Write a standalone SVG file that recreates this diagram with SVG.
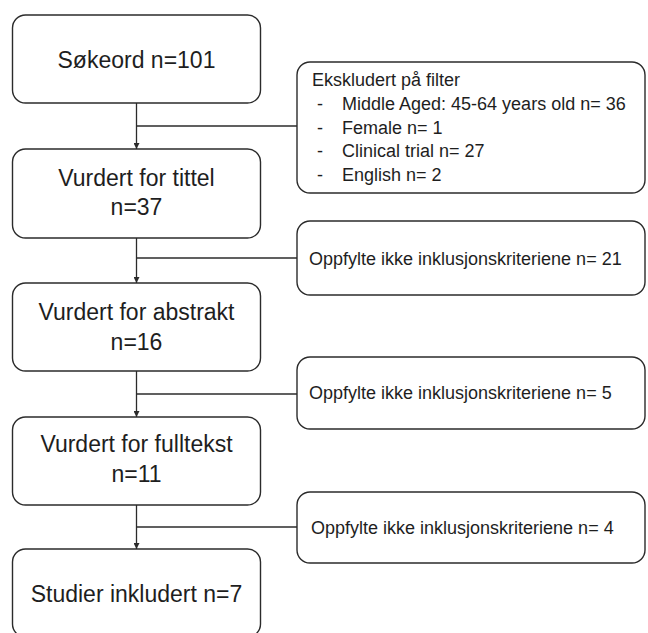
<svg xmlns="http://www.w3.org/2000/svg" width="648" height="633" viewBox="0 0 648 633">
<defs>
<style>
.box{fill:#fff;stroke:#2b2b2b;stroke-width:1.4}
.main{font-family:"Liberation Sans",Arial,sans-serif;font-size:23px;fill:#1e1e1e;text-anchor:middle}
.side{font-family:"Liberation Sans",Arial,sans-serif;font-size:18px;fill:#1e1e1e}
.conn{fill:none;stroke:#2b2b2b;stroke-width:1.3}
</style>
<marker id="arr" viewBox="0 0 8 8" refX="8" refY="4" markerWidth="6" markerHeight="6" markerUnits="userSpaceOnUse" orient="auto">
<path d="M0,0 L8,4 L0,8 Z" fill="#2b2b2b"/>
</marker>
</defs>
<rect width="648" height="633" fill="#fff"/>
<g id="connectors">
<line class="conn" x1="136.5" y1="103" x2="136.5" y2="149" marker-end="url(#arr)"/>
<line class="conn" x1="136.5" y1="126" x2="297" y2="126"/>
<line class="conn" x1="136.5" y1="238" x2="136.5" y2="283" marker-end="url(#arr)"/>
<line class="conn" x1="136.5" y1="258" x2="297" y2="258"/>
<line class="conn" x1="136.5" y1="371" x2="136.5" y2="417" marker-end="url(#arr)"/>
<line class="conn" x1="136.5" y1="394" x2="297" y2="394"/>
<line class="conn" x1="136.5" y1="505" x2="136.5" y2="549" marker-end="url(#arr)"/>
<line class="conn" x1="136.5" y1="527" x2="297" y2="527"/>
</g>
<g id="n1">
<rect class="box" x="12.5" y="15" width="248" height="88" rx="13"/>
<text class="main" x="136.5" y="68">Søkeord n=101</text>
</g>
<g id="n2">
<rect class="box" x="12.5" y="149" width="248" height="89" rx="13"/>
<text class="main" x="136.5" y="186">Vurdert for tittel</text>
<text class="main" x="136.5" y="215">n=37</text>
</g>
<g id="n3">
<rect class="box" x="12.5" y="283" width="248" height="88" rx="13"/>
<text class="main" x="136.5" y="320">Vurdert for abstrakt</text>
<text class="main" x="136.5" y="350">n=16</text>
</g>
<g id="n4">
<rect class="box" x="12.5" y="417" width="248" height="88" rx="13"/>
<text class="main" x="136.5" y="452">Vurdert for fulltekst</text>
<text class="main" x="136.5" y="482">n=11</text>
</g>
<g id="n5">
<rect class="box" x="12.5" y="549" width="248" height="88" rx="13"/>
<text class="main" x="136.5" y="602">Studier inkludert n=7</text>
</g>
<g id="e1">
<rect class="box" x="297" y="62" width="348" height="131" rx="13"/>
<text class="side" x="312" y="86">Ekskludert på filter</text>
<text class="side" x="317" y="110">-</text>
<text class="side" x="342" y="110">Middle Aged: 45-64 years old n= 36</text>
<text class="side" x="317" y="134">-</text>
<text class="side" x="342" y="134">Female n= 1</text>
<text class="side" x="317" y="157">-</text>
<text class="side" x="342" y="157">Clinical trial n= 27</text>
<text class="side" x="317" y="181">-</text>
<text class="side" x="342" y="181">English n= 2</text>
</g>
<g id="e2">
<rect class="box" x="297" y="221" width="348" height="74" rx="13"/>
<text class="side" x="309" y="265">Oppfylte ikke inklusjonskriteriene n= 21</text>
</g>
<g id="e3">
<rect class="box" x="297" y="357" width="348" height="72" rx="13"/>
<text class="side" x="309" y="399">Oppfylte ikke inklusjonskriteriene n= 5</text>
</g>
<g id="e4">
<rect class="box" x="297" y="492" width="348" height="71" rx="13"/>
<text class="side" x="311" y="534">Oppfylte ikke inklusjonskriteriene n= 4</text>
</g>
</svg>
